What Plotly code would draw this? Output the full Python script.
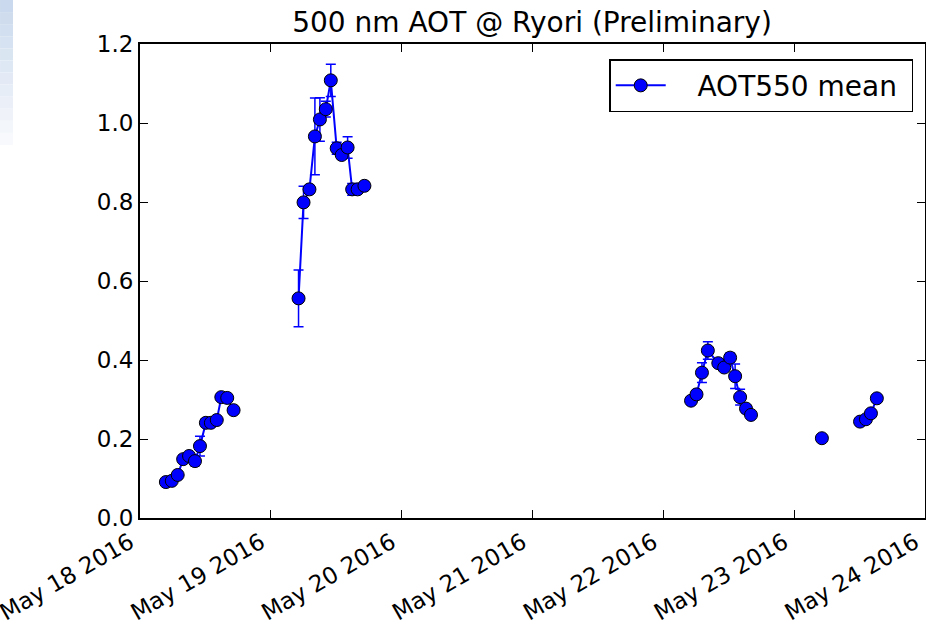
import plotly.graph_objects as go

# ---- data (None separates observing days; no line drawn across them) ----
times = [
    "2016-05-18 04:45", "2016-05-18 05:50", "2016-05-18 06:55", "2016-05-18 07:55",
    "2016-05-18 09:00", "2016-05-18 10:05", "2016-05-18 11:00", "2016-05-18 12:05",
    "2016-05-18 13:00", "2016-05-18 14:05", "2016-05-18 14:55", "2016-05-18 16:00",
    "2016-05-18 17:10", "2016-05-18 23:00",
    "2016-05-19 05:05", "2016-05-19 06:00", "2016-05-19 07:05", "2016-05-19 08:05",
    "2016-05-19 09:00", "2016-05-19 10:05", "2016-05-19 11:00", "2016-05-19 12:05",
    "2016-05-19 13:00", "2016-05-19 14:05", "2016-05-19 14:55", "2016-05-19 15:55",
    "2016-05-19 17:10", "2016-05-20 12:00",
    "2016-05-22 05:05", "2016-05-22 06:05", "2016-05-22 07:05", "2016-05-22 08:10",
    "2016-05-22 10:05", "2016-05-22 11:10", "2016-05-22 12:15", "2016-05-22 13:10",
    "2016-05-22 14:05", "2016-05-22 15:10", "2016-05-22 16:05", "2016-05-22 23:00",
    "2016-05-23 05:05", "2016-05-23 08:00",
    "2016-05-23 12:05", "2016-05-23 13:10", "2016-05-23 14:05", "2016-05-23 15:10",
]
aot_mean = [
    0.091, 0.094, 0.109, 0.149, 0.157, 0.144, 0.182, 0.241, 0.241, 0.248, 0.306, 0.304, 0.273, None,
    0.556, 0.799, 0.832, 0.966, 1.009, 1.035, 1.108, 0.936, 0.919, 0.938, 0.832, 0.832, 0.841, None,
    0.297, 0.313, 0.368, 0.424, 0.392, 0.381, 0.406, 0.359, 0.306, 0.277, 0.261, None,
    0.202, None,
    0.244, 0.250, 0.265, 0.303,
]
aot_err = [
    0.006, 0.006, 0.008, 0.010, 0.008, 0.012, 0.025, 0.010, 0.008, 0.008, 0.008, 0.006, 0.008, 0,
    0.072, 0.041, 0.010, 0.097, 0.055, 0.020, 0.041, 0.015, 0.010, 0.027, 0.015, 0.008, 0.008, 0,
    0.008, 0.010, 0.025, 0.022, 0.010, 0.008, 0.012, 0.031, 0.020, 0.010, 0.008, 0,
    0.006, 0,
    0.006, 0.006, 0.008, 0.008,
]
x_range = ["2016-05-18", "2016-05-24"]
y_ticks = [0.0, 0.2, 0.4, 0.6, 0.8, 1.0, 1.2]
series_name = "AOT550 mean"

FONT = "DejaVu Sans"
NBSP = "\u00a0"

fig = go.Figure()
fig.add_trace(go.Scatter(
    x=times, y=aot_mean, mode="lines+markers", name=NBSP * 3 + series_name + NBSP,
    connectgaps=False,
    line=dict(color="#0000ff", width=2),
    marker=dict(size=13, color="#0000ff", line=dict(color="black", width=1)),
    error_y=dict(type="data", array=aot_err, visible=True, color="#0000ff",
                 thickness=1.5, width=5),
))

# faint gradient strip in the top-left corner of the image
n_bands = 12
top_c = (202, 217, 237)
bot_c = (247, 249, 252)
y_top, y_bot = 1.0928, 0.787
for i in range(n_bands):
    f = i / (n_bands - 1)
    c = tuple(int(round(top_c[k] + (bot_c[k] - top_c[k]) * f)) for k in range(3))
    y0 = y_top - (y_top - y_bot) * i / n_bands
    y1 = y_top - (y_top - y_bot) * (i + 1) / n_bands
    fig.add_shape(type="rect", xref="paper", yref="paper",
                  x0=-0.1783, x1=-0.1618, y0=y1, y1=y0,
                  fillcolor="rgb(%d,%d,%d)" % c, line=dict(width=0), layer="below")

fig.update_layout(
    width=926, height=624,
    margin=dict(l=140, r=1, t=44, b=106),
    paper_bgcolor="white", plot_bgcolor="white",
    font=dict(family=FONT, color="black"),
    title=dict(text="500 nm AOT @ Ryori (Preliminary)", x=0.4994, xanchor="center",
               xref="paper", y=0.965, yref="container", yanchor="middle",
               font=dict(size=28, family=FONT)),
    showlegend=True,
    legend=dict(x=0.985, y=0.968, xanchor="right", yanchor="top",
                bordercolor="black", borderwidth=1.5, bgcolor="white",
                font=dict(size=28, family=FONT), itemwidth=50),
)
fig.update_xaxes(
    range=x_range, type="date", dtick=86400000, tick0="2016-05-18",
    tickformat="%b %d %Y", tickangle=-30, ticklabeloverflow="allow",
    ticklabelshift=-10,
    tickfont=dict(size=23, family=FONT),
    showgrid=False, zeroline=False,
    showline=True, linecolor="black", linewidth=2, mirror="ticks",
    ticks="inside", ticklen=8, tickwidth=1, tickcolor="black", automargin=False,
)
fig.update_yaxes(
    range=[0, 1.2], tickvals=y_ticks, tickformat=".1f",
    tickfont=dict(size=23, family=FONT),
    showgrid=False, zeroline=False,
    showline=True, linecolor="black", linewidth=2, mirror="ticks",
    ticks="inside", ticklen=8, tickwidth=1, tickcolor="black", automargin=False,
)

fig.write_html("out.html")
